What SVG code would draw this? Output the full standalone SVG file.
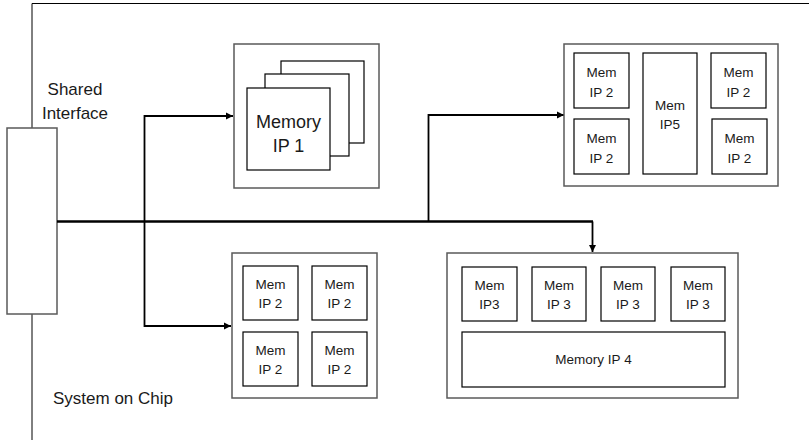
<svg xmlns="http://www.w3.org/2000/svg" width="809" height="440" viewBox="0 0 809 440">
  <defs>
    <marker id="arrow" viewBox="0 0 8 8" refX="8" refY="4" markerWidth="4" markerHeight="4" markerUnits="strokeWidth" orient="auto">
      <path d="M0,0 L8,4 L0,8 Z" fill="#000"/>
    </marker>
    <style>
      .frame { fill: none; stroke: #000; stroke-width: 1; }
      .outer { fill: #fff; stroke: #5a5a5a; stroke-width: 1.5; }
      .inner { fill: #fff; stroke: #000; stroke-width: 1.2; }
      .wire { fill: none; stroke: #000; stroke-width: 1.8; }
      .bus { fill: none; stroke: #000; stroke-width: 2.6; }
      text { font-family: "Liberation Sans", Arial, sans-serif; fill: #1a1a1a; text-anchor: middle; }
      .lbl { font-size: 17px; }
      .big { font-size: 18px; }
      .sm { font-size: 13.5px; }
    </style>
  </defs>
  <rect width="809" height="440" fill="#fff"/>

  <!-- System on Chip boundary -->
  <g id="soc">
    <path class="frame" d="M32,128 V3.5 H809 M32,314 V440"/>
    <text class="lbl" x="53" y="404" style="text-anchor:start">System on Chip</text>
  </g>

  <!-- Shared interface block -->
  <g id="shared-interface">
    <rect x="7" y="128" width="50" height="186" fill="#fff" stroke="#5a5a5a" stroke-width="1.5"/>
    <text class="lbl" x="75" y="95">Shared</text>
    <text class="lbl" x="75" y="119">Interface</text>
  </g>

  <!-- Connectors -->
  <g id="connectors">
    <path class="bus" d="M57,221.5 H593"/>
    <path class="wire" d="M592.5,221.5 V252" marker-end="url(#arrow)"/>
    <path class="wire" d="M144.5,221.5 V116 H233" marker-end="url(#arrow)"/>
    <path class="wire" d="M144.5,221.5 V326 H231" marker-end="url(#arrow)"/>
    <path class="wire" d="M428.5,221.5 V115 H564" marker-end="url(#arrow)"/>
  </g>

  <!-- Memory IP 1 stack -->
  <g id="memory-ip1">
    <rect class="outer" x="234" y="44" width="145" height="144"/>
    <rect class="inner" x="281" y="61" width="83" height="82"/>
    <rect class="inner" x="265" y="74" width="84" height="82"/>
    <rect class="inner" x="247" y="88" width="83" height="82"/>
    <text class="big" x="288.5" y="128">Memory</text>
    <text class="big" x="288.5" y="152">IP 1</text>
  </g>

  <!-- Mem IP 2 / IP5 cluster -->
  <g id="memory-ip2-ip5">
    <rect class="outer" x="564" y="44" width="214" height="142"/>
    <rect class="inner" x="574" y="53" width="55" height="55"/>
    <text class="sm" x="601.5" y="77">Mem</text>
    <text class="sm" x="601.5" y="97">IP 2</text>
    <rect class="inner" x="574" y="119" width="55" height="55"/>
    <text class="sm" x="601.5" y="143">Mem</text>
    <text class="sm" x="601.5" y="163">IP 2</text>
    <rect class="inner" x="643" y="53" width="54" height="121"/>
    <text class="sm" x="670" y="110">Mem</text>
    <text class="sm" x="670" y="129">IP5</text>
    <rect class="inner" x="711" y="53" width="55" height="55"/>
    <text class="sm" x="738.5" y="77">Mem</text>
    <text class="sm" x="738.5" y="97">IP 2</text>
    <rect class="inner" x="712" y="119" width="55" height="55"/>
    <text class="sm" x="739.5" y="143">Mem</text>
    <text class="sm" x="739.5" y="163">IP 2</text>
  </g>

  <!-- Mem IP 2 quad -->
  <g id="memory-ip2-quad">
    <rect class="outer" x="232" y="253" width="145" height="145"/>
    <rect class="inner" x="243" y="266" width="55" height="54"/>
    <text class="sm" x="270.5" y="289">Mem</text>
    <text class="sm" x="270.5" y="308">IP 2</text>
    <rect class="inner" x="312" y="266" width="55" height="54"/>
    <text class="sm" x="339.5" y="289">Mem</text>
    <text class="sm" x="339.5" y="308">IP 2</text>
    <rect class="inner" x="243" y="332" width="55" height="54"/>
    <text class="sm" x="270.5" y="355">Mem</text>
    <text class="sm" x="270.5" y="374">IP 2</text>
    <rect class="inner" x="312" y="332" width="55" height="54"/>
    <text class="sm" x="339.5" y="355">Mem</text>
    <text class="sm" x="339.5" y="374">IP 2</text>
  </g>

  <!-- Mem IP3 row with Memory IP 4 -->
  <g id="memory-ip3-ip4">
    <rect class="outer" x="447" y="253" width="291" height="145"/>
    <rect class="inner" x="462" y="267" width="55" height="54"/>
    <text class="sm" x="489.5" y="290">Mem</text>
    <text class="sm" x="489.5" y="309">IP3</text>
    <rect class="inner" x="532" y="267" width="54" height="54"/>
    <text class="sm" x="559" y="290">Mem</text>
    <text class="sm" x="559" y="309">IP 3</text>
    <rect class="inner" x="601" y="267" width="54" height="54"/>
    <text class="sm" x="628" y="290">Mem</text>
    <text class="sm" x="628" y="309">IP 3</text>
    <rect class="inner" x="671" y="267" width="54" height="54"/>
    <text class="sm" x="698" y="290">Mem</text>
    <text class="sm" x="698" y="309">IP 3</text>
    <rect class="inner" x="462" y="332" width="263" height="55"/>
    <text class="sm" x="593.5" y="364">Memory IP 4</text>
  </g>
</svg>
